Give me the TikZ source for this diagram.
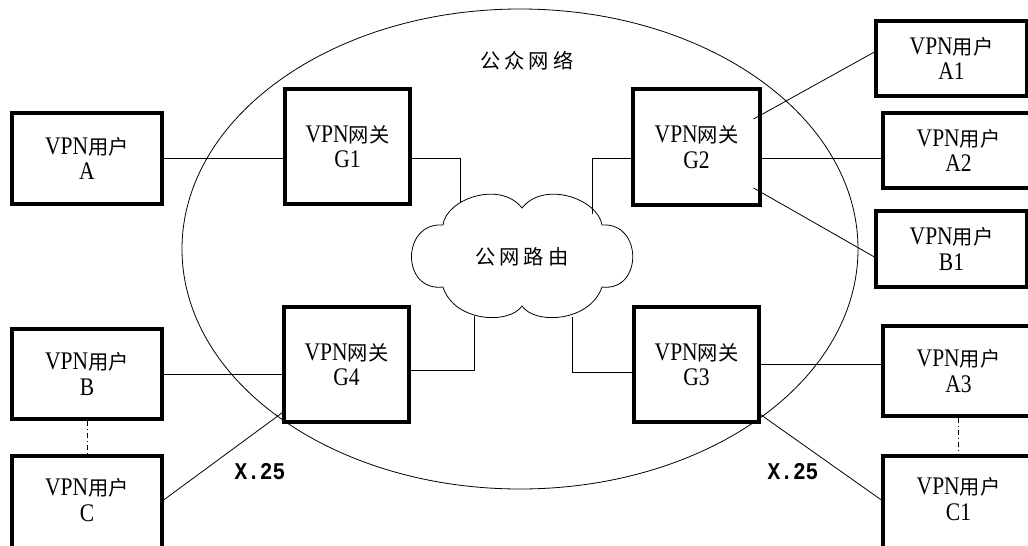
\documentclass[tikz,border=0pt]{standalone}
\usepackage{fontspec}
\setmainfont{Liberation Serif}[FakeStretch=0.85]
\newfontfamily\cjk{Noto Sans CJK SC}[Scale=0.8]
\newfontfamily\xmono{Liberation Mono}[FakeStretch=0.88]
\usetikzlibrary{calc}
\def\px{0.75pt}
\begin{document}
\begin{tikzpicture}[x=0.75pt,y=-0.75pt,
  box/.style={draw, line width=2.4pt, inner sep=0pt, align=center,
              font=\fontsize{19}{19}\selectfont},
  bw/.style={minimum width=#1*\px},
  bh/.style={minimum height=#1*\px},
  txt/.style={inner sep=0pt, align=center, font=\fontsize{19}{19}\selectfont},
  conn/.style={line width=0.6pt},
  dotline/.style={line width=0.6pt, dash pattern=on 4pt off 2pt on 1pt off 2pt},
  xlbl/.style={inner sep=0pt, font=\fontsize{18}{20}\selectfont\xmono\bfseries}]
\useasboundingbox (0,0) rectangle (1028,546);
\fill[white] (0,0) rectangle (1028,546);
\clip (0,0) rectangle (1028,546);

% public network ellipse
\draw[line width=0.6pt] (520,249) ellipse [x radius=253.5pt, y radius=180pt];
\node[txt] (pub) at (527,61) {\cjk 公\kern3pt 众\kern3pt 网\kern3pt 络};

% cloud
\draw[line width=0.6pt, fill=white]
  (443,225) .. controls (446,199) and (500,180) .. (522,208)
  .. controls (544,180) and (598,199) .. (602,225)
  .. controls (643,222) and (643,292) .. (602,287)
  .. controls (590,322) and (535,325) .. (522,306)
  .. controls (509,325) and (454,322) .. (443,287)
  .. controls (401,292) and (401,222) .. (443,225) -- cycle;
\node[txt] (route) at (522,257) {\cjk 公\kern3pt 网\kern3pt 路\kern3pt 由};
\coordinate (k1) at (460,203);
\coordinate (k2) at (592,214);
\coordinate (k3) at (572,317);
\coordinate (k4) at (474,316);

% user boxes left
\node[box,bw=150,bh=91] (uA) at (87,158.5) {VPN{\cjk 用户}\\A};
\node[box,bw=150,bh=90] (uB) at (87,374) {VPN{\cjk 用户}\\B};
\node[box,bw=150,bh=110] (uC) at (87,511) {};
\node[txt] (tC) at (87,500) {VPN{\cjk 用户}\\C};

% gateways
\node[box,bw=125,bh=115] (g1) at (347.5,146.5) {VPN{\cjk 网关}\\G1};
\node[box,bw=127,bh=116] (g2) at (696.5,147) {VPN{\cjk 网关}\\G2};
\node[box,bw=125,bh=115] (g3) at (696.5,364.5) {VPN{\cjk 网关}\\G3};
\node[box,bw=125,bh=115] (g4) at (346.5,364.5) {VPN{\cjk 网关}\\G4};

% user boxes right
\node[box,bw=151,bh=75] (uA1) at (951.5,58.5) {VPN{\cjk 用户}\\A1};
\node[box,bw=151,bh=75] (uA2) at (958.5,150.5) {VPN{\cjk 用户}\\A2};
\node[box,bw=151,bh=76] (uB1) at (951.5,249) {VPN{\cjk 用户}\\B1};
\node[box,bw=151,bh=90] (uA3) at (958.5,371) {VPN{\cjk 用户}\\A3};
\node[box,bw=151,bh=110] (uC1) at (958.5,511) {};
\node[txt] (tC1) at (958.5,499) {VPN{\cjk 用户}\\C1};

% connectors
\draw[conn] (uA.east) -- (uA.east -| g1.west);
\draw[conn] ($(g1.east)+(0,11.5)$) -| (k1);
\draw[conn] ($(g2.west)+(0,11)$) -| (k2);
\draw[conn] ($(g4.east)+(0,5.5)$) -| (k4);
\draw[conn] ($(g3.west)+(0,7.5)$) -| (k3);
\draw[conn] (uB.east) -- (uB.east -| g4.west);
\draw[conn] ($(uC.east)+(0,-11)$) -- ($(g4.south west)+(0,-11)$);
\draw[conn] ($(g2.east)+(-8,-28)$) -- ($(uA1.west)+(0,-6.5)$);
\draw[conn] ($(g2.east)+(0,11)$) coordinate (t2) -- (t2 -| uA2.west);
\draw[conn] ($(g2.east)+(-8,41)$) -- ($(uB1.west)+(0,8)$);
\draw[conn] (g3.east) -- (g3.east -| uA3.west);
\draw[conn] ($(g3.south east)+(0,-9)$) -- ($(uC1.west)+(0,-11)$);
\draw[dotline] (uB.south) -- (uC.north);
\draw[dotline] (uA3.south) -- (uC1.north);

% X.25 labels
\node[xlbl] (x1) at (260,472) {X.25};
\node[xlbl] (x2) at (793,472) {X.25};
\end{tikzpicture}
\end{document}
